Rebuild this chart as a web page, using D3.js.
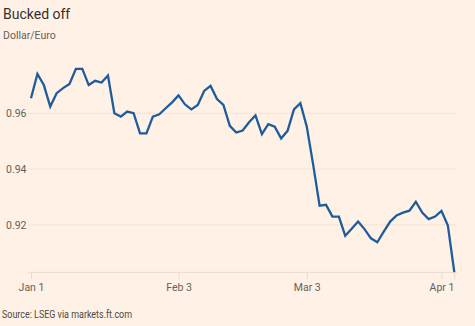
<!DOCTYPE html>
<html>
<head>
<meta charset="utf-8">
<script src="https://cdn.jsdelivr.net/npm/d3@7"></script>
<style>
  html, body { margin: 0; padding: 0; background: #fff1e5; }
  svg { display: block; }
  text { font-family: Roboto, "Noto Sans", sans-serif; }
</style>
</head>
<body>
<svg id="chart" width="475" height="326"></svg>
<script>
const dates = [
  "2025-01-01","2025-01-02","2025-01-03","2025-01-06","2025-01-07","2025-01-08","2025-01-09","2025-01-10",
  "2025-01-13","2025-01-14","2025-01-15","2025-01-16","2025-01-17","2025-01-20","2025-01-21","2025-01-22",
  "2025-01-23","2025-01-24","2025-01-27","2025-01-28","2025-01-29","2025-01-30","2025-01-31",
  "2025-02-03","2025-02-04","2025-02-05","2025-02-06","2025-02-07","2025-02-10","2025-02-11","2025-02-12",
  "2025-02-13","2025-02-14","2025-02-17","2025-02-18","2025-02-19","2025-02-20","2025-02-21","2025-02-24",
  "2025-02-25","2025-02-26","2025-02-27","2025-02-28",
  "2025-03-03","2025-03-04","2025-03-05","2025-03-06","2025-03-07","2025-03-10","2025-03-11","2025-03-12",
  "2025-03-13","2025-03-14","2025-03-17","2025-03-18","2025-03-19","2025-03-20","2025-03-21","2025-03-24",
  "2025-03-25","2025-03-26","2025-03-27","2025-03-28","2025-03-31",
  "2025-04-01","2025-04-02","2025-04-03"
];
const dollarEuro = [
  0.9654, 0.9741, 0.9701, 0.9624, 0.9672, 0.9690, 0.9705, 0.9759,
  0.9759, 0.9701, 0.9716, 0.9710, 0.9735, 0.9600, 0.9588, 0.9606,
  0.9600, 0.9528, 0.9528, 0.9588, 0.9596, 0.9618, 0.9639,
  0.9664, 0.9632, 0.9614, 0.9630, 0.9680, 0.9698, 0.9651, 0.9630,
  0.9555, 0.9531, 0.9538, 0.9568, 0.9592, 0.9525, 0.9561, 0.9552,
  0.9510, 0.9537, 0.9614, 0.9636,
  0.9552, 0.9415, 0.9269, 0.9272, 0.9230, 0.9230, 0.9161, 0.9186,
  0.9212, 0.9185, 0.9152, 0.9138, 0.9176, 0.9212, 0.9234, 0.9244,
  0.9251, 0.9283, 0.9244, 0.9221, 0.9230,
  0.9250, 0.9198, 0.9031
];
const xTickDates = ["2025-01-01","2025-02-03","2025-03-03","2025-04-01","2025-04-03"];
const xTickLabels = ["Jan 1","Feb 3","Mar 3","Apr 1",""];
const yTicks = [0.92, 0.94, 0.96];
const yTickLabels = ["0.92","0.94","0.96"];

const title = "Bucked off";
const subtitle = "Dollar/Euro";
const source = "Source: LSEG via markets.ft.com";

const svg = d3.select("#chart");
const x = d3.scalePoint().domain(dates).range([31, 454.3]);
const y = d3.scaleLinear().domain([0.903, 0.979]).range([272.4, 60.2]);
const gridX0 = 28, gridX1 = 457;

svg.append("text").attr("x", 3).attr("y", 19)
  .attr("font-size", 14).attr("fill", "#33302e").text(title);
svg.append("text").attr("x", 3).attr("y", 38.5)
  .attr("font-size", 10.5).attr("fill", "#66605c").text(subtitle);

// gridlines
svg.append("g").selectAll("line").data(yTicks).join("line")
  .attr("x1", gridX0).attr("x2", gridX1)
  .attr("y1", d => y(d)).attr("y2", d => y(d))
  .attr("stroke", "#f5e3d4").attr("stroke-width", 1);
svg.append("g").selectAll("text").data(yTicks).join("text")
  .attr("x", 6).attr("y", d => y(d)).attr("dy", "0.35em")
  .attr("font-size", 10.5).attr("fill", "#66605c")
  .text((d, i) => yTickLabels[i]);

// baseline
svg.append("line").attr("x1", gridX0).attr("x2", gridX1)
  .attr("y1", y(0.903)).attr("y2", y(0.903))
  .attr("stroke", "#e9dbcf").attr("stroke-width", 1);

// x axis
const xAxis = d3.axisBottom(x).tickValues(xTickDates)
  .tickFormat((d, i) => xTickLabels[i]).tickSize(7).tickPadding(4);
const gx = svg.append("g").attr("transform", `translate(0,${y(0.903)})`).call(xAxis);
gx.select(".domain").remove();
gx.selectAll(".tick line").attr("stroke", "#e9dbcf");
gx.selectAll(".tick text").attr("font-size", 10.5).attr("fill", "#66605c")
  .attr("font-family", "Roboto, 'Noto Sans', sans-serif");

// line
const line = d3.line().x((d, i) => x(dates[i])).y(d => y(d));
svg.append("path").datum(dollarEuro).attr("d", line)
  .attr("fill", "none").attr("stroke", "#1e5c9b").attr("stroke-width", 2.3)
  .attr("stroke-linejoin", "miter").attr("stroke-linecap", "butt");

svg.append("text").attr("x", 2).attr("y", 318)
  .attr("font-size", 10).attr("fill", "#4d4845")
  .attr("textLength", 130).attr("lengthAdjust", "spacingAndGlyphs")
  .text(source);
</script>
</body>
</html>
